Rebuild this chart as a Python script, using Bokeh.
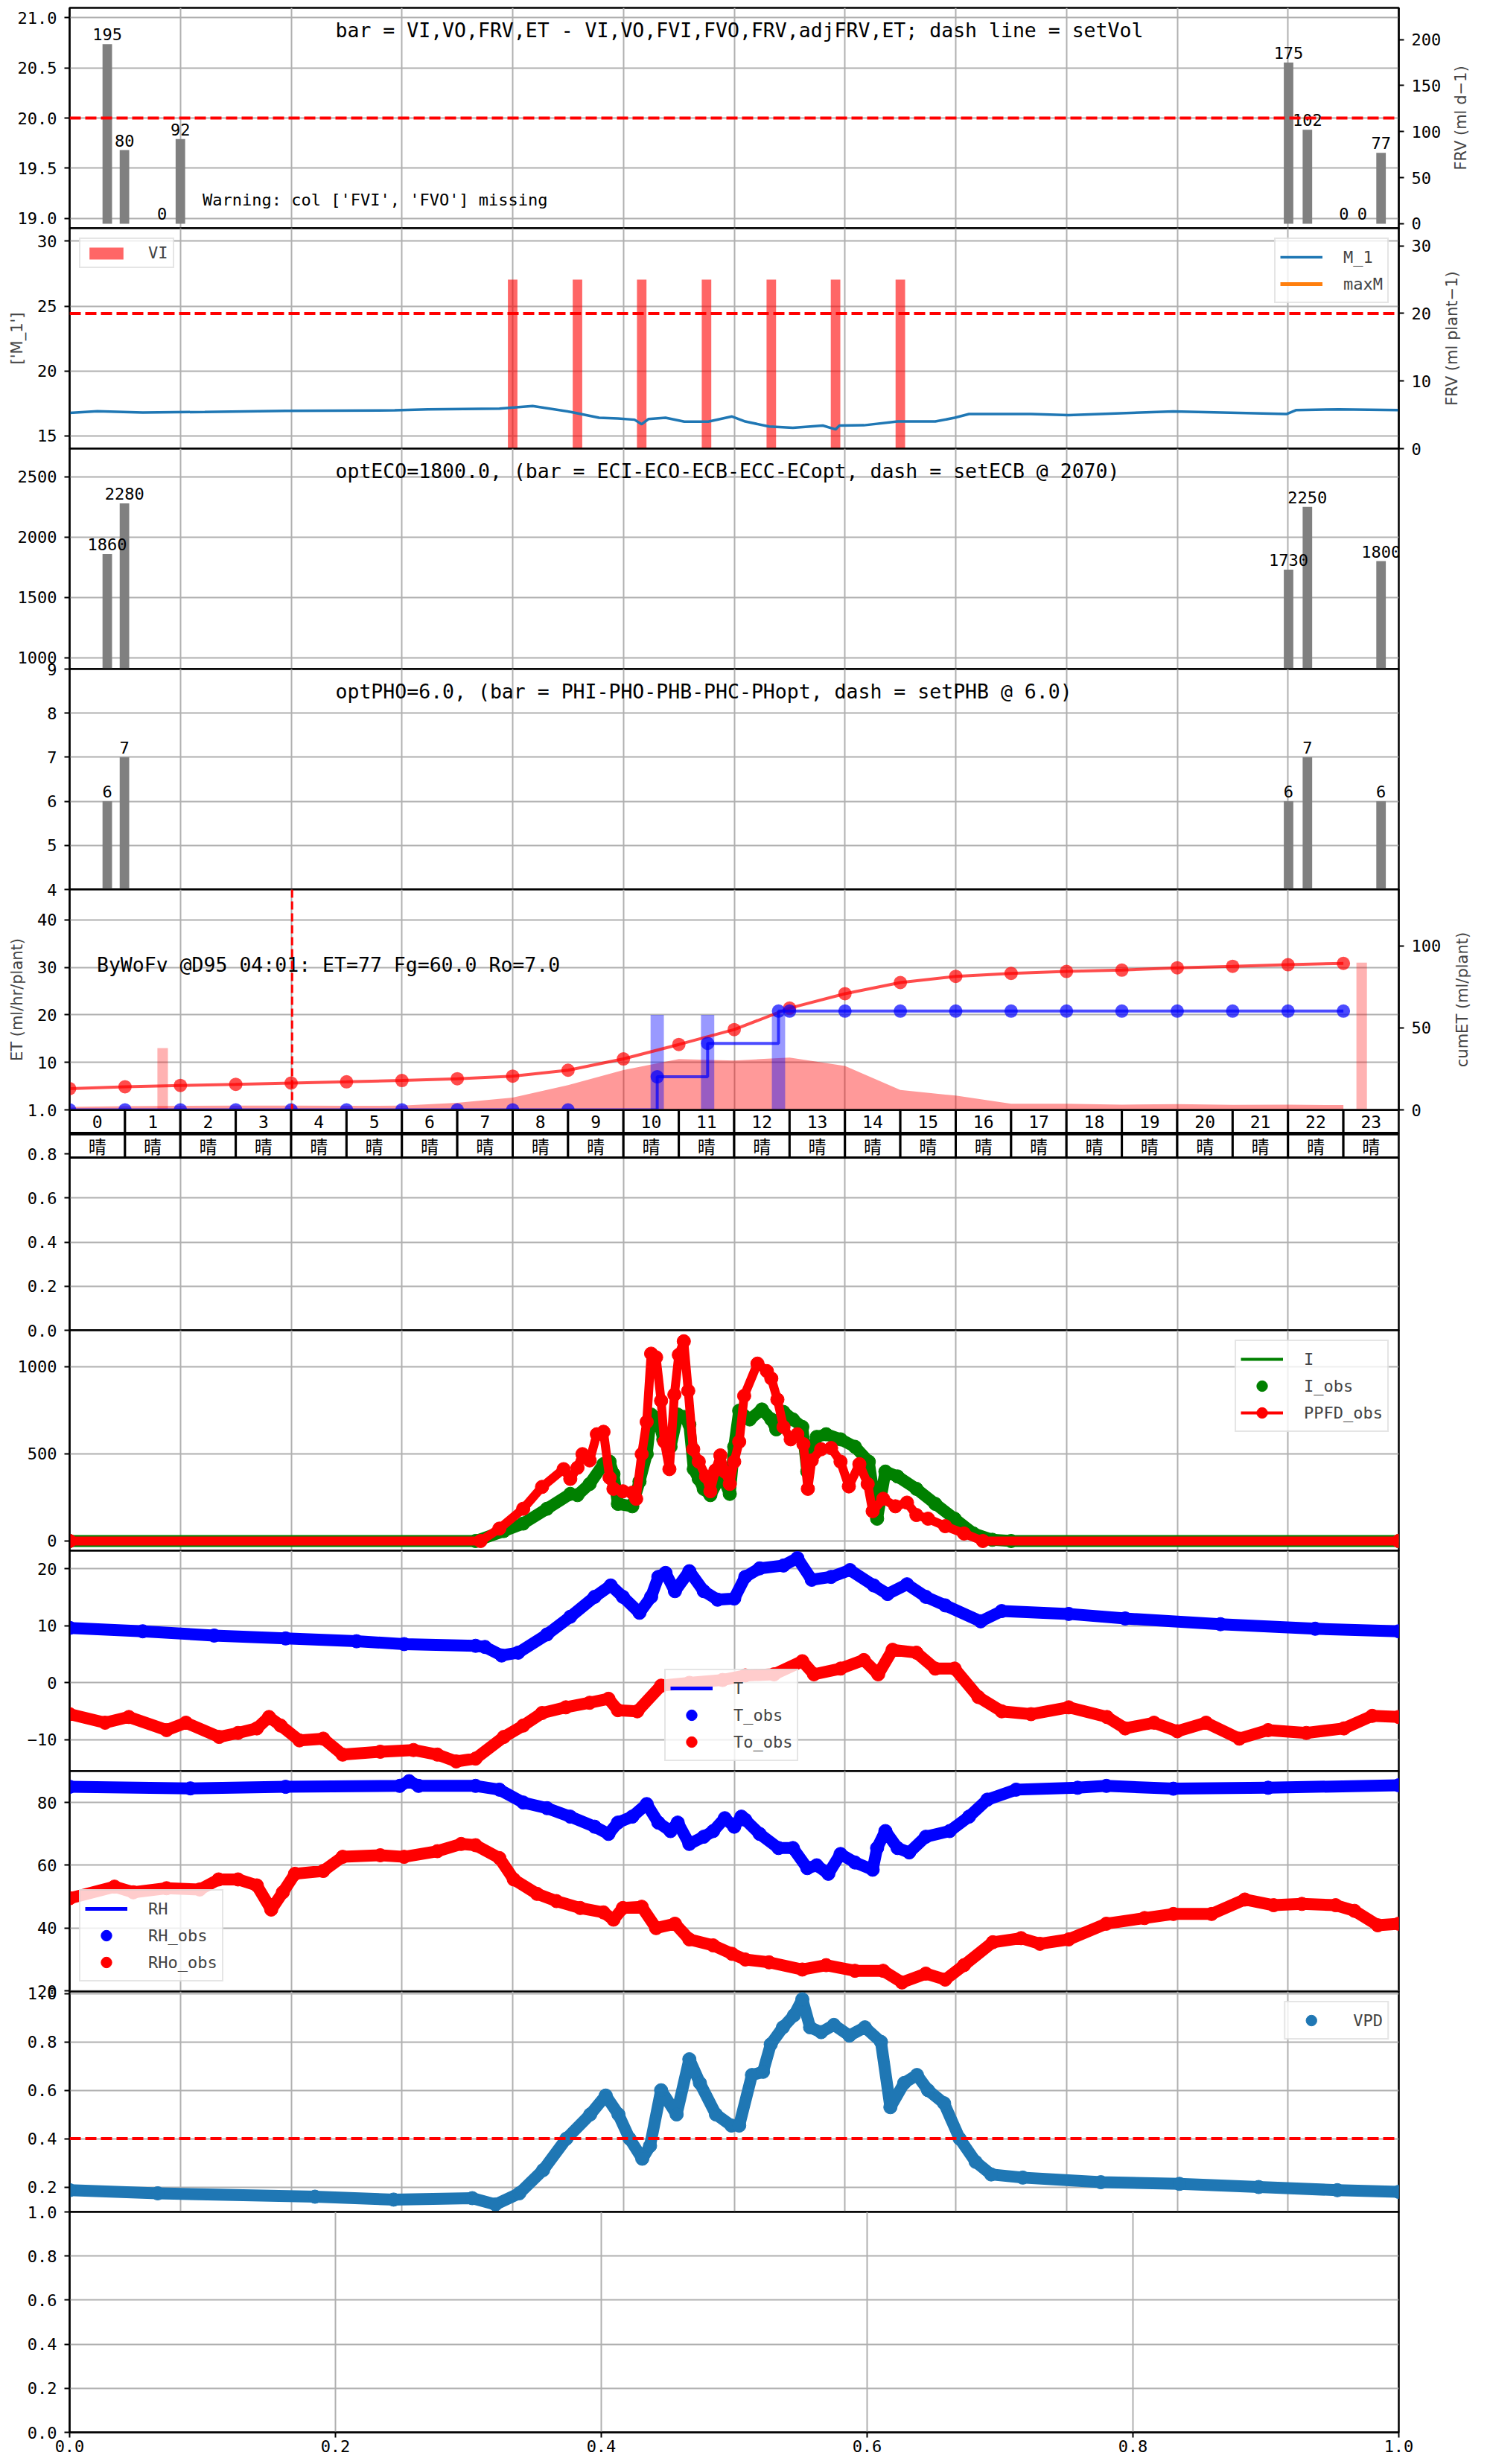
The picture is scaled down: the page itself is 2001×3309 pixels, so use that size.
import math
from bokeh.plotting import figure
from bokeh.models import (Range1d, LinearAxis, FixedTicker, Span, Legend, LegendItem,
                          NumeralTickFormatter)
from bokeh.layouts import column, row
from bokeh.embed import file_html
from bokeh.resources import INLINE
from bokeh.core.properties import value

NAN = float("nan")

# ---------------- data ----------------
# panel 1 : daily volumes (right axis, ml d-1)
FRV_X = [0.68, 0.99, 1.67, 2.0, 22.01, 22.35, 23.01, 23.34, 23.68]
FRV_V = [195, 80, 0, 92, 175, 102, 0, 0, 77]
SET_VOL = 20.0
TITLE1 = "bar = VI,VO,FRV,ET - VI,VO,FVI,FVO,FRV,adjFRV,ET; dash line = setVol"
WARN1 = "Warning: col ['FVI', 'FVO'] missing"

# panel 2 : VI events and moisture
VI_X = [8.0, 9.17, 10.33, 11.5, 12.67, 13.83, 15.0]
VI_V = [25, 25, 25, 25, 25, 25, 25]
SET_M = 20.0
M1_T = [0.0, 0.5, 1.32, 2.44, 3.9, 5.87, 6.47, 7.76, 8.36, 9.05, 9.56, 9.9, 10.2, 10.33,
        10.45, 10.76, 11.1, 11.53, 11.96, 12.2, 12.63, 13.06, 13.6, 13.83, 13.9, 14.34,
        14.95, 15.63, 15.98, 16.24, 17.36, 18.04, 19.93, 21.98, 22.15, 22.92, 24.0]
M1_V = [16.78, 16.9, 16.8, 16.85, 16.93, 16.97, 17.05, 17.1, 17.3, 16.85, 16.4, 16.35, 16.25,
        15.9, 16.3, 16.4, 16.1, 16.1, 16.5, 16.11, 15.73, 15.63, 15.8, 15.5, 15.8, 15.82,
        16.11, 16.11, 16.4, 16.69, 16.69, 16.6, 16.89, 16.69, 16.99, 17.05, 16.99]

# panels 3/4 : EC and pH
EC_X = [0.68, 0.99, 22.01, 22.35, 23.68]
EC_V = [1860, 2280, 1730, 2250, 1800]
PH_V = [6, 7, 6, 7, 6]
TITLE3 = "optECO=1800.0, (bar = ECI-ECO-ECB-ECC-ECopt, dash = setECB @ 2070)"
TITLE4 = "optPHO=6.0, (bar = PHI-PHO-PHB-PHC-PHopt, dash = setPHB @ 6.0)"

# panel 5 : hourly ET
HOURS = [0, 1, 2, 3, 4, 5, 6, 7, 8, 9, 10, 11, 12, 13, 14, 15, 16, 17, 18, 19, 20, 21, 22, 23]
WEATHER = ["晴"] * 24
ET_H = [0.63, 0.8, 0.85, 0.9, 0.9, 0.85, 0.9, 1.5, 2.6, 5.2, 8.4, 10.7, 10.4, 11.0, 9.25,
        4.2, 3.0, 1.3, 1.3, 1.1, 1.2, 1.05, 1.1, 1.0]
CUM_ET = [13.0, 14.1, 14.9, 15.6, 16.4, 17.1, 17.9, 19.0, 20.6, 24.2, 31.1, 39.9, 49.0, 62.1,
          70.9, 77.7, 81.5, 83.3, 84.5, 85.3, 86.7, 87.6, 88.6, 89.4]
IRR_T = [0, 1, 2, 3, 4, 5, 6, 7, 8, 9, 10.61, 11.52, 12.8, 13, 14, 15, 16, 17, 18, 19, 20, 21,
         22, 23]
IRR_V = [0, 0, 0, 0, 0, 0, 0, 0, 0, 0, 20.2, 40.6, 60.3, 60.3, 60.3, 60.3, 60.3, 60.3, 60.3,
         60.3, 60.3, 60.3, 60.3, 60.3]
IRR_BAR_X = [10.61, 11.52, 12.8]
IRR_BAR_V = [20, 20, 20]
PINK_X = [1.68, 23.33]
PINK_V = [13.0, 31.0]
NOW_H = 4.017
ET_TEXT = "ByWoFv @D95 04:01: ET=77 Fg=60.0 Ro=7.0"

# panel 7 : light
PPFD_T = [0.0, 7.42, 7.76, 8.19, 8.53, 8.92, 9.04, 9.17, 9.26, 9.39, 9.52, 9.64, 9.75, 9.82,
          9.99, 10.16, 10.23, 10.33, 10.42, 10.5, 10.59, 10.68, 10.74, 10.83, 10.92, 11.0,
          11.09, 11.17, 11.26, 11.36, 11.49, 11.57, 11.66, 11.75, 11.83, 11.92, 12.0, 12.09,
          12.18, 12.42, 12.59, 12.67, 12.78, 12.89, 13.02, 13.14, 13.25, 13.33, 13.4, 13.57,
          13.75, 13.92, 14.07, 14.26, 14.41, 14.5, 14.69, 14.91, 15.12, 15.29, 15.5, 15.81,
          16.15, 16.49, 24.0]
PPFD_V = [0, 0, 71, 185, 310, 412, 356, 420, 498, 462, 612, 626, 363, 299,
          285, 277, 242, 498, 683, 1074, 1053, 804, 569, 412, 839, 1067,
          1145, 861, 526, 455, 370, 285, 405, 491, 398, 327, 455, 569,
          832, 1017, 974, 932, 811, 654, 583, 612, 555, 299, 462, 526,
          533, 455, 313, 441, 327, 171, 242, 199, 220, 149, 128, 85,
          43, 0, 0]
I_T = [0.0, 7.33, 7.84, 8.19, 8.62, 9.04, 9.17, 9.39, 9.64, 9.75, 9.82, 9.9, 10.16, 10.29,
       10.42, 10.5, 10.63, 10.72, 10.85, 10.98, 11.1, 11.19, 11.27, 11.36, 11.45, 11.57,
       11.7, 11.79, 11.92, 12.0, 12.09, 12.28, 12.5, 12.67, 12.76, 12.89, 13.06, 13.23,
       13.32, 13.49, 13.66, 13.92, 14.18, 14.43, 14.58, 14.73, 14.95, 15.29, 15.63, 15.98,
       16.32, 16.66, 17.0, 24.0]
I_V = [0, 0, 57, 100, 185, 270, 263, 327, 441, 455, 384, 213, 199, 341,
       498, 725, 697, 583, 540, 725, 711, 668, 412, 356, 299, 263,
       341, 370, 270, 540, 747, 697, 754, 697, 640, 740, 697, 654,
       398, 597, 612, 583, 540, 455, 128, 398, 370, 299, 213, 128,
       43, 7, 0, 0]

# panel 8 : temperature
T_T = [0.0, 1.32, 2.61, 3.9, 5.18, 6.04, 7.33, 7.5, 7.8, 8.1, 8.62, 9.04, 9.48, 9.77, 9.99,
       10.29, 10.5, 10.63, 10.76, 10.93, 11.19, 11.45, 11.7, 12.0, 12.2, 12.46, 12.89, 13.14,
       13.4, 13.75, 14.09, 14.52, 14.77, 15.12, 15.46, 15.81, 16.45, 16.83, 18.04, 19.06,
       20.78, 22.49, 24.0]
T_V = [9.65, 9.05, 8.3, 7.8, 7.3, 6.8, 6.5, 6.3, 4.8, 5.3, 8.5, 11.6, 15.1, 17.1, 15.1,
       12.3, 15.1, 18.6, 19.3, 16.1, 19.6, 16.1, 14.6, 14.8, 18.6, 20.1, 20.6, 21.9,
       18.1, 18.6, 19.8, 17.1, 15.6, 17.3, 15.1, 13.6, 10.8, 12.6, 12.1, 11.3,
       10.3, 9.5, 9.05]
TO_T = [0.0, 0.64, 1.07, 1.75, 2.1, 2.7, 3.04, 3.38, 3.6, 3.81, 4.15, 4.58, 4.93, 5.61, 6.21,
        6.64, 6.98, 7.33, 7.84, 8.19, 8.53, 8.96, 9.39, 9.73, 9.9, 10.25, 10.68, 11.19, 11.79,
        12.2, 12.72, 13.23, 13.44, 13.92, 14.34, 14.6, 14.86, 15.29, 15.63, 15.98, 16.41,
        16.83, 17.36, 18.04, 18.73, 19.06, 19.58, 20.0, 20.52, 21.12, 21.64, 22.33, 23.01,
        23.52, 24.0]
TO_V = [-5.5, -7.0, -6.0, -8.3, -7.0, -9.5, -8.8, -8.0, -6.0, -7.5, -10.1, -9.8, -12.6, -12.1,
        -11.8, -12.6, -13.8, -13.3, -9.5, -7.5, -5.3, -4.3, -3.5, -2.8, -4.8, -5.0, -0.5, 0.0,
        0.5, 1.3, 1.5, 3.8, 1.5, 2.5, 4.0, 1.5, 5.8, 5.3, 2.5, 2.5, -2.5, -5.0, -5.5, -4.3,
        -6.0, -8.0, -7.0, -8.5, -7.0, -9.8, -8.3, -8.8, -8.0, -5.8, -6.0]

# panel 9 : humidity
RH_T = [0.0, 2.18, 3.9, 5.96, 6.13, 6.3, 7.33, 7.76, 8.19, 8.62, 9.04, 9.48, 9.73, 9.9, 10.16,
        10.42, 10.63, 10.85, 10.98, 11.19, 11.45, 11.62, 11.83, 12.0, 12.13, 12.2, 12.46,
        12.8, 13.06, 13.32, 13.49, 13.7, 13.92, 14.18, 14.5, 14.58, 14.73, 14.95, 15.16,
        15.46, 15.89, 16.24, 16.57, 17.09, 18.2, 18.72, 19.93, 21.64, 24.0]
RH_V = [85.0, 84.5, 85.0, 85.3, 86.8, 85.3, 85.3, 84.1, 80.0, 78.2, 75.5, 72.3, 70.0, 73.6,
        75.5, 79.5, 73.6, 70.9, 73.6, 66.8, 69.1, 70.9, 75.0, 72.3, 75.5, 74.5, 70.0, 65.5,
        65.5, 59.1, 60.0, 57.3, 63.6, 60.9, 58.6, 65.5, 70.9, 65.5, 64.1, 69.1, 70.9, 75.5,
        80.9, 84.1, 84.7, 85.3, 84.4, 84.7, 85.5]
RHO_T = [0.0, 0.81, 1.15, 1.75, 2.35, 2.69, 3.04, 3.38, 3.64, 3.85, 4.07, 4.58, 4.93, 5.61,
         6.04, 6.64, 7.07, 7.33, 7.76, 8.02, 8.44, 8.79, 9.22, 9.64, 9.82, 9.99, 10.33, 10.59,
         10.93, 11.19, 11.62, 11.96, 12.2, 12.63, 13.23, 13.66, 14.18, 14.69, 15.03, 15.46,
         15.81, 16.15, 16.67, 17.18, 17.52, 18.04, 18.72, 19.41, 19.93, 20.62, 21.22, 21.74,
         22.25, 22.86, 23.2, 23.62, 24.0]
RHO_V = [49.5, 53.2, 51.4, 52.7, 52.3, 55.5, 55.5, 53.6, 45.9, 51.4, 57.3, 58.2, 62.7, 63.2,
         62.7, 64.5, 66.8, 66.4, 62.3, 55.5, 50.9, 48.6, 46.4, 45.0, 42.7, 46.4, 46.8, 40.0,
         41.4, 36.4, 34.5, 31.8, 30.0, 29.1, 26.8, 28.2, 26.4, 26.4, 22.7, 25.5, 23.6, 28.2,
         35.5, 36.8, 35.0, 36.4, 41.4, 43.2, 44.5, 44.5, 49.1, 47.3, 47.7, 47.3, 45.5, 40.9,
         41.4]

# panel 10 : VPD
VPD_T = [0.0, 1.59, 4.43, 5.85, 7.27, 7.69, 8.12, 8.55, 8.97, 9.4, 9.68, 9.91, 10.11, 10.34,
         10.48, 10.68, 10.96, 11.19, 11.38, 11.67, 11.95, 12.09, 12.32, 12.52, 12.66, 12.88,
         13.08, 13.23, 13.37, 13.57, 13.8, 14.08, 14.36, 14.65, 14.82, 15.07, 15.3, 15.5,
         15.79, 16.07, 16.36, 16.64, 17.21, 18.62, 20.04, 21.47, 22.89, 24.0]
VPD_V = [0.187, 0.174, 0.16, 0.148, 0.154, 0.128, 0.174, 0.27, 0.4, 0.5, 0.578, 0.5, 0.4,
         0.317, 0.37, 0.6, 0.5, 0.728, 0.63, 0.5, 0.454, 0.454, 0.663, 0.676, 0.79, 0.86,
         0.91, 0.976, 0.86, 0.84, 0.87, 0.826, 0.86, 0.8, 0.53, 0.63, 0.663, 0.6, 0.546, 0.4,
         0.304, 0.252, 0.239, 0.22, 0.213, 0.2, 0.187, 0.18]
VPD_LIMIT = 0.4

# ---------------- styling helpers ----------------
MONO = "DejaVu Sans Mono"
SANS = "DejaVu Sans"
CJK = "Noto Sans CJK JP"
FW, FH = 1785, 296
BL, BR = 93, 114
OV = 14
GRID_H = [0, 2, 4, 6, 8, 10, 12, 14, 16, 18, 20, 22, 24]


def style_axis(ax, ticks, fmt=None, label=None, standoff=10):
    ax.ticker = FixedTicker(ticks=ticks)
    if fmt:
        ax.formatter = NumeralTickFormatter(format=fmt)
    ax.major_label_text_font = MONO
    ax.major_label_text_font_size = "22px"
    ax.major_label_text_color = "black"
    ax.major_tick_out = 7
    ax.major_tick_in = 0
    ax.minor_tick_out = 0
    ax.minor_tick_in = 0
    ax.major_tick_line_width = 2
    ax.axis_line_width = 2
    ax.major_label_standoff = standoff
    if label:
        ax.axis_label = label
        ax.axis_label_text_font = SANS
        ax.axis_label_text_font_size = "21px"
        ax.axis_label_text_font_style = "normal"
        ax.axis_label_standoff = 12


def base(yr, yticks, fmt=None, ylabel=None, top=OV, bottom=OV, xr=(0, 24), grid_x=GRID_H,
         br=BR):
    p = figure(frame_width=FW, frame_height=FH, x_range=Range1d(*xr), y_range=Range1d(*yr),
               output_backend="svg", toolbar_location=None, title=None,
               min_border_left=BL, min_border_right=br, min_border_top=top,
               min_border_bottom=bottom)
    p.border_fill_alpha = 0
    p.background_fill_color = "white"
    p.outline_line_color = "black"
    p.outline_line_width = 2.5
    p.outline_line_alpha = 1
    p.xgrid.ticker = FixedTicker(ticks=grid_x)
    p.grid.grid_line_color = "#b0b0b0"
    p.grid.grid_line_width = 2
    style_axis(p.left[0], yticks, fmt, ylabel)
    p.ygrid.ticker = FixedTicker(ticks=yticks)
    return p


def right_axis(p, name, rng, ticks):
    p.extra_y_ranges[name] = Range1d(*rng)
    ax = LinearAxis(y_range_name=name)
    style_axis(ax, ticks)
    p.add_layout(ax, "right")


def side_label(text, top=OV, bottom=OV):
    """narrow companion figure that only carries a bottom-to-top axis label"""
    q = figure(frame_width=1, frame_height=FH, x_range=Range1d(0, 1), y_range=Range1d(0, 1),
               output_backend="svg", toolbar_location=None, title=None,
               min_border_left=26, min_border_right=0, min_border_top=top,
               min_border_bottom=bottom)
    q.border_fill_alpha = 0
    q.background_fill_alpha = 0
    q.outline_line_color = None
    q.grid.visible = False
    q.xaxis.visible = False
    ax = q.left[0]
    ax.ticker = FixedTicker(ticks=[])
    ax.major_tick_out = 0
    ax.minor_tick_out = 0
    ax.axis_line_color = None
    ax.major_label_text_font_size = "0px"
    ax.axis_label = text
    ax.axis_label_text_font = SANS
    ax.axis_label_text_font_size = "21px"
    ax.axis_label_text_font_style = "normal"
    ax.axis_label_standoff = 2
    return q


def legend(p, items, location, gh=36):
    leg = Legend(items=items, location=location, margin=13, padding=6, spacing=0,
                 glyph_width=57, glyph_height=gh, label_standoff=28,
                 label_text_font=MONO, label_text_font_size="22px",
                 border_line_color="#cccccc", border_line_width=2,
                 background_fill_color="white", background_fill_alpha=0.8)
    p.add_layout(leg)


def title_text(p, txt, rng):
    y = rng[1] - 30.0 * (rng[1] - rng[0]) / FH
    p.text(x=[4.8], y=[y], text=[txt], text_font=value(MONO), text_font_size="26.5px",
           text_align="left", text_baseline="middle", text_color="black")


def bar_labels(p, xs, vs, rname="default"):
    p.text(x=xs, y=vs, text=[str(v) for v in vs], y_range_name=rname,
           text_font=value(MONO), text_font_size="22px", text_align="center",
           text_baseline="bottom", y_offset=-5, text_color="black")


def band(p, xs, ys, color):
    p.line(xs, ys, line_color=color, line_width=16, line_join="round", line_cap="round")
    return p.scatter(xs, ys, size=18, fill_color=color, line_color=color)


items = []

# ---- panel 1
r1 = (18.9, 21.1)
p1 = base(r1, [19.0, 19.5, 20.0, 20.5, 21.0], "0.0", top=10, br=68)
right_axis(p1, "r", (-4.9, 234.5), [0, 50, 100, 150, 200])
p1.vbar(x=FRV_X, top=FRV_V, bottom=0, width=0.172, y_range_name="r",
        fill_color="#808080", line_color=None)
bar_labels(p1, FRV_X, FRV_V, "r")
p1.add_layout(Span(location=SET_VOL, dimension="width", line_color="red",
                   line_dash="15 6", line_width=4))
title_text(p1, TITLE1, r1)
p1.text(x=[2.4], y=[19.18], text=[WARN1], text_font=value(MONO), text_font_size="22px",
        text_align="left", text_baseline="middle", text_color="black")
items.append(row(p1, side_label("FRV (ml d\u22121)", top=10), spacing=0))

# ---- panel 2
r2 = (14.02, 31.0)
p2 = base(r2, [15, 20, 25, 30], ylabel="['M_1']", br=56)
right_axis(p2, "r", (0, 32.6), [0, 10, 20, 30])
vi = p2.vbar(x=VI_X, top=VI_V, bottom=0, width=0.172, y_range_name="r",
             fill_color="red", fill_alpha=0.6, line_color=None)
m1 = p2.line(M1_T, M1_V, line_color="#1f77b4", line_width=3.5)
mx = p2.line([NAN], [NAN], line_color="#ff7f0e", line_width=5)
p2.add_layout(Span(location=SET_M, dimension="width", line_color="red", y_range_name="r",
                   line_dash="15 6", line_width=4))
legend(p2, [LegendItem(label="VI", renderers=[vi])], "top_left", gh=20)
legend(p2, [LegendItem(label="M_1", renderers=[m1]), LegendItem(label="maxM", renderers=[mx])],
       "top_right")
items.append(row(p2, side_label("FRV (ml plant\u22121)"), spacing=0))

# ---- panel 3
r3 = (904.5, 2734.0)
p3 = base(r3, [1000, 1500, 2000, 2500])
p3.vbar(x=EC_X, top=EC_V, bottom=0, width=0.172, fill_color="#808080", line_color=None)
bar_labels(p3, EC_X, EC_V)
title_text(p3, TITLE3, r3)
items.append(p3)

# ---- panel 4
r4 = (4, 9)
p4 = base(r4, [4, 5, 6, 7, 8, 9])
p4.vbar(x=EC_X, top=PH_V, bottom=0, width=0.172, fill_color="#808080", line_color=None)
bar_labels(p4, EC_X, PH_V)
title_text(p4, TITLE4, r4)
items.append(p4)

# ---- panel 5
r5 = (0, 46.4)
p5 = base(r5, [10, 20, 30, 40], ylabel="ET (ml/hr/plant)", br=70)
right_axis(p5, "r", (0, 134.5), [0, 50, 100])
p5.varea(x=HOURS, y1=[0] * len(HOURS), y2=ET_H, fill_color="red", fill_alpha=0.4)
p5.vbar(x=PINK_X, top=PINK_V, bottom=0, width=0.19, fill_color="red", fill_alpha=0.3,
        line_color=None)
p5.vbar(x=IRR_BAR_X, top=IRR_BAR_V, bottom=0, width=0.24, fill_color="blue", fill_alpha=0.4,
        line_color=None)
p5.line(HOURS, CUM_ET, y_range_name="r", line_color="red", line_alpha=0.7, line_width=4)
p5.scatter(HOURS, CUM_ET, y_range_name="r", size=18, fill_color="red", fill_alpha=0.7,
           line_color=None)
p5.step(IRR_T, IRR_V, mode="after", y_range_name="r", line_color="blue", line_alpha=0.7,
        line_width=4)
p5.scatter(IRR_T, IRR_V, y_range_name="r", size=18, fill_color="blue", fill_alpha=0.7,
           line_color=None)
p5.add_layout(Span(location=NOW_H, dimension="height", line_color="red", line_dash="11 5",
                   line_width=3))
p5.text(x=[0.49], y=[30.6], text=[ET_TEXT], text_font=value(MONO), text_font_size="26.5px",
        text_align="left", text_baseline="middle", text_color="black")
items.append(row(p5, side_label("cumET (ml/plant)"), spacing=0))

# ---- panel 6 (empty axes with hour / weather table)
r6 = (0, 1)
p6 = base(r6, [0, 0.2, 0.4, 0.6, 0.8, 1.0], "0.0")
h_left = [h for h in HOURS]
h_right = [h + 1 for h in HOURS]
p6.quad(left=h_left, right=h_right, top=1.0, bottom=0.895, fill_color="white",
        line_color="black", line_width=3)
p6.quad(left=h_left, right=h_right, top=0.889, bottom=0.784, fill_color="white",
        line_color="black", line_width=3)
p6.text(x=[h + 0.5 for h in HOURS], y=[0.9475] * 24, text=[str(h) for h in HOURS],
        text_font=value(MONO), text_font_size="23px", text_align="center",
        text_baseline="middle", text_color="black")
p6.text(x=[h + 0.5 for h in HOURS], y=[0.8365] * 24, text=WEATHER,
        text_font=value(CJK), text_font_size="24px", text_align="center",
        text_baseline="middle", text_color="black")
items.append(p6)

# ---- panel 7
r7 = (-55.6, 1208)
p7 = base(r7, [0, 500, 1000])
i_obs = band(p7, I_T, I_V, "green")
i_line = p7.line(I_T, I_V, line_color="green", line_width=4)
p7.line(PPFD_T, PPFD_V, line_color="red", line_width=12, line_join="round")
pp_line = p7.line(PPFD_T, PPFD_V, line_color="red", line_width=4)
pp_sc = p7.scatter(PPFD_T, PPFD_V, size=18, fill_color="red", line_color="red")
legend(p7, [LegendItem(label="I", renderers=[i_line]),
            LegendItem(label="I_obs", renderers=[i_obs]),
            LegendItem(label="PPFD_obs", renderers=[pp_line, pp_sc])], "top_right")
items.append(p7)

# ---- panel 8
r8 = (-15.5, 23.2)
p8 = base(r8, [-10, 0, 10, 20])
t_line = p8.line([NAN], [NAN], line_color="blue", line_width=5)
t_obs = band(p8, T_T, T_V, "blue")
to_obs = band(p8, TO_T, TO_V, "red")
legend(p8, [LegendItem(label="T", renderers=[t_line]),
            LegendItem(label="T_obs", renderers=[t_obs]),
            LegendItem(label="To_obs", renderers=[to_obs])], (799, 13))
items.append(p8)

# ---- panel 9
r9 = (19.8, 90.0)
p9 = base(r9, [20, 40, 60, 80])
rh_line = p9.line([NAN], [NAN], line_color="blue", line_width=5)
rh_obs = band(p9, RH_T, RH_V, "blue")
rho_obs = band(p9, RHO_T, RHO_V, "red")
legend(p9, [LegendItem(label="RH", renderers=[rh_line]),
            LegendItem(label="RH_obs", renderers=[rh_obs]),
            LegendItem(label="RHo_obs", renderers=[rho_obs])], "bottom_left")
items.append(p9)

# ---- panel 10
r10 = (0.097, 1.008)
p10 = base(r10, [0.2, 0.4, 0.6, 0.8, 1.0], "0.0")
vpd = band(p10, VPD_T, VPD_V, "#1f77b4")
p10.add_layout(Span(location=VPD_LIMIT, dimension="width", line_color="red",
                    line_dash="15 6", line_width=4))
legend(p10, [LegendItem(label="VPD", renderers=[vpd])], "top_right")
items.append(p10)

# ---- panel 11 (empty)
p11 = base((0, 1), [0, 0.2, 0.4, 0.6, 0.8, 1.0], "0.0", bottom=43, xr=(0, 1),
           grid_x=[0, 0.2, 0.4, 0.6, 0.8, 1.0])
style_axis(p11.below[0], [0, 0.2, 0.4, 0.6, 0.8, 1.0], "0.0", standoff=3)
items.append(p11)

for p in [p1, p2, p3, p4, p5, p6, p7, p8, p9, p10]:
    p.xaxis.visible = False
for it in items[1:]:
    it.margin = (-2 * OV, 0, 0, 0)

layout = column(*items, spacing=0)
open("out.html", "w").write(file_html(layout, INLINE))
